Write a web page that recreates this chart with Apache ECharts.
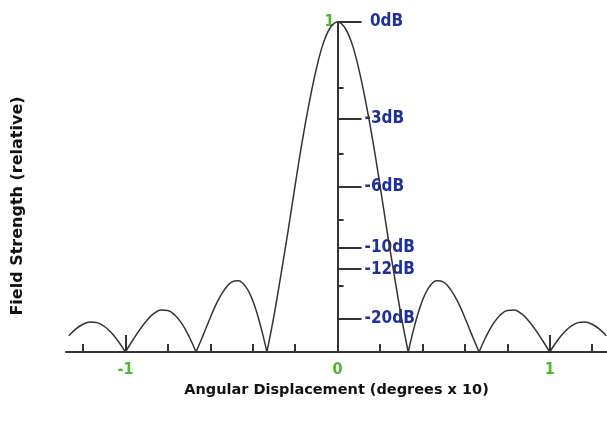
<!DOCTYPE html>
<html>
<head>
<meta charset="utf-8">
<title>Field Strength</title>
<script src="https://cdn.jsdelivr.net/npm/echarts@6/dist/echarts.min.js"></script>
<style>
    html, body { margin: 0; padding: 0; background: #fff; }
    #chart { width: 607px; height: 425px; }
</style>
</head>
<body>
<div id="chart"></div>
<script>
// angular displacement (degrees x 10)
var angle = [
    -1.267, -1.233, -1.2, -1.167, -1.133, -1.1, -1.067, -1.033, -1, -0.967,
    -0.933, -0.9, -0.867, -0.833, -0.8, -0.767, -0.733, -0.7, -0.667, -0.633,
    -0.6, -0.567, -0.533, -0.5, -0.467, -0.433, -0.4, -0.367, -0.333, -0.3,
    -0.267, -0.233, -0.2, -0.167, -0.133, -0.1, -0.067, -0.033, 0,
    0.033, 0.067, 0.1, 0.133, 0.167, 0.2, 0.233, 0.267, 0.3, 0.333,
    0.367, 0.4, 0.433, 0.467, 0.5, 0.533, 0.567, 0.6, 0.633, 0.667,
    0.7, 0.733, 0.767, 0.8, 0.833, 0.867, 0.9, 0.933, 0.967, 1,
    1.033, 1.067, 1.1, 1.133, 1.167, 1.2, 1.233, 1.267
];
// relative field strength
var field = [
    0.049, 0.070, 0.084, 0.091, 0.089, 0.078, 0.059, 0.032, 0, 0.034,
    0.067, 0.095, 0.116, 0.127, 0.126, 0.112, 0.085, 0.047, 0, 0.052,
    0.104, 0.152, 0.189, 0.212, 0.216, 0.198, 0.156, 0.089, 0, 0.109,
    0.234, 0.368, 0.505, 0.637, 0.757, 0.858, 0.936, 0.984, 1,
    0.984, 0.936, 0.858, 0.757, 0.637, 0.505, 0.368, 0.234, 0.109, 0,
    0.089, 0.156, 0.198, 0.216, 0.212, 0.189, 0.152, 0.104, 0.052, 0,
    0.047, 0.085, 0.112, 0.126, 0.127, 0.116, 0.095, 0.067, 0.034, 0,
    0.032, 0.059, 0.078, 0.089, 0.091, 0.084, 0.070, 0.049
];
var dbValues = [1, 0.708, 0.5, 0.316, 0.251, 0.1];
var dbLabels = [' 0dB', '-3dB', '-6dB', '-10dB', '-12dB', '-20dB'];
var minorYTicks = [0.2, 0.4, 0.6, 0.8];
var minorXTicks = [-1.2, -0.8, -0.6, -0.4, -0.2, 0.2, 0.4, 0.6, 0.8, 1.2];
var majorXTicks = [-1, 1];
var xLabels = [-1, 0, 1];

var xMin = -1.28, xMax = 1.27;
var gridLeft = 66, gridRight = 0;
var chartWidth = 607;
// shift the centre axis from the grid edge to x = 0
var zeroOffset = -(chartWidth - gridLeft - gridRight) * (0 - xMin) / (xMax - xMin);

var axisColor = '#333';
var green = '#4cb82c';
var blue = '#1f2f9c';
var narrow = "'Liberation Sans Narrow', 'DejaVu Sans Condensed', Arial, sans-serif";
var titleFont = "'DejaVu Sans', Arial, sans-serif";

// split the curve into lobes at the nulls so each V stays sharp
var lobes = [];
var cur = [];
for (var i = 0; i < angle.length; i++) {
    cur.push([angle[i], field[i]]);
    if (field[i] === 0 && cur.length > 1) {
        lobes.push(cur);
        cur = [[angle[i], field[i]]];
    }
}
if (cur.length > 1) lobes.push(cur);

var chart = echarts.init(document.getElementById('chart'));

var option = {
    backgroundColor: '#fff',
    animation: false,
    grid: {
        left: gridLeft,
        right: gridRight,
        top: 22,
        bottom: 73,
        containLabel: false,
        outerBoundsMode: 'none'
    },
    xAxis: [{
        type: 'value',
        position: 'bottom',
        min: xMin,
        max: xMax,
        axisLine: { show: true, onZero: false, lineStyle: { color: axisColor, width: 2 } },
        axisTick: {
            show: true,
            inside: true,
            length: 8,
            customValues: minorXTicks,
            lineStyle: { color: axisColor, width: 2 }
        },
        axisLabel: { show: false },
        splitLine: { show: false }
    }, {
        type: 'value',
        position: 'bottom',
        min: xMin,
        max: xMax,
        axisLine: { show: false, onZero: false },
        axisTick: {
            show: true,
            inside: true,
            length: 17,
            customValues: majorXTicks,
            lineStyle: { color: axisColor, width: 2 }
        },
        axisLabel: {
            show: true,
            customValues: xLabels,
            margin: 10,
            color: green,
            fontSize: 16,
            fontWeight: 'bold',
            fontFamily: narrow
        },
        splitLine: { show: false },
        name: 'Angular Displacement (degrees x 10)',
        nameLocation: 'middle',
        nameGap: 29,
        nameTextStyle: {
            color: '#111',
            fontSize: 14.5,
            fontWeight: 'bold',
            fontFamily: titleFont
        }
    }],
    yAxis: [{
        // centre axis with the dB marks
        type: 'value',
        position: 'left',
        offset: zeroOffset,
        min: 0,
        max: 1,
        axisLine: { show: true, onZero: false, lineStyle: { color: axisColor, width: 2 } },
        axisTick: {
            show: true,
            inside: true,
            length: 24,
            customValues: dbValues,
            lineStyle: { color: axisColor, width: 2 }
        },
        axisLabel: {
            show: true,
            inside: true,
            margin: 27,
            customValues: dbValues,
            formatter: function (value) {
                var idx = dbValues.indexOf(value);
                return idx >= 0 ? dbLabels[idx] : '';
            },
            color: blue,
            fontSize: 17,
            fontWeight: 'bold',
            fontFamily: narrow
        },
        splitLine: { show: false }
    }, {
        type: 'value',
        position: 'left',
        offset: zeroOffset,
        min: 0,
        max: 1,
        axisLine: { show: false, onZero: false },
        axisTick: {
            show: true,
            inside: true,
            length: 6,
            customValues: minorYTicks,
            lineStyle: { color: axisColor, width: 2 }
        },
        axisLabel: { show: false },
        splitLine: { show: false }
    }, {
        type: 'value',
        position: 'left',
        offset: zeroOffset,
        min: 0,
        max: 1,
        axisLine: { show: false, onZero: false },
        axisTick: { show: false },
        axisLabel: {
            show: true,
            customValues: [1],
            margin: 3,
            color: green,
            fontSize: 16,
            fontWeight: 'bold',
            fontFamily: narrow
        },
        splitLine: { show: false }
    }, {
        type: 'value',
        position: 'left',
        min: 0,
        max: 1,
        axisLine: { show: false, onZero: false },
        axisTick: { show: false },
        axisLabel: { show: false },
        splitLine: { show: false },
        name: 'Field Strength (relative)',
        nameLocation: 'middle',
        nameGap: 40,
        nameTextStyle: {
            color: '#111',
            fontSize: 16,
            fontWeight: 'bold',
            fontFamily: titleFont,
            padding: [0, 38, 0, 0]
        }
    }],
    series: lobes.map(function (pts) {
        return {
            type: 'line',
            xAxisIndex: 0,
            yAxisIndex: 0,
            data: pts,
            smooth: 0.4,
            showSymbol: false,
            silent: true,
            lineStyle: { color: '#333', width: 1.5 }
        };
    })
};

chart.setOption(option);
</script>
</body>
</html>
